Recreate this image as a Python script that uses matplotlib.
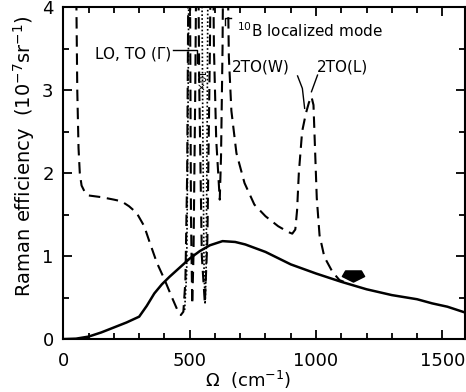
import numpy as np
import matplotlib
matplotlib.use('Agg')
import matplotlib.pyplot as plt
from matplotlib.path import Path

# solid curve
solid_x = [0, 50, 100, 150, 200, 250, 300, 330, 360, 390, 420, 460, 500, 540, 580, 630,
           680, 720, 800, 900, 1000, 1100, 1200, 1300, 1400, 1460, 1520, 1590]
solid_y = [0.0, 0.005, 0.03, 0.08, 0.14, 0.20, 0.27, 0.40, 0.55, 0.66, 0.75, 0.86, 0.97, 1.06, 1.13, 1.18,
           1.17, 1.14, 1.05, 0.90, 0.79, 0.69, 0.60, 0.53, 0.48, 0.43, 0.39, 0.32]

# dashed curve
dash_x = [40, 50, 55, 60, 65, 72, 85, 100, 150, 200, 230, 260, 290, 320, 340, 370, 400, 430, 450, 465,
          475, 483, 490, 495, 498, 501, 505, 510, 515, 522, 530, 538, 548, 560, 570, 580, 588,
          596, 605, 619, 624, 630, 636, 642, 648, 655, 665, 685, 717, 756, 800, 850, 890, 906, 918,
          925, 932, 945, 960, 972, 982, 990, 996, 1003, 1014, 1033, 1065, 1093, 1110]
dash_y = [6.0, 4.5, 3.0, 2.3, 2.0, 1.85, 1.77, 1.73, 1.71, 1.68, 1.66, 1.60, 1.52, 1.36, 1.18, 0.92, 0.72, 0.50, 0.36, 0.29,
          0.33, 0.7, 2.0, 4.5, 6.0, 4.5, 1.5, 0.42, 1.0, 3.0, 6.0, 3.0, 1.0, 0.43, 1.2, 3.5, 6.0,
          3.5, 2.4, 1.68, 2.2, 3.5, 6.0, 8.0, 5.0, 3.4, 2.75, 2.24, 1.88, 1.62, 1.48, 1.36, 1.29, 1.27, 1.32,
          1.55, 2.0, 2.5, 2.72, 2.85, 2.92, 2.82, 2.3, 1.7, 1.25, 0.99, 0.81, 0.71, 0.69]

# dotted curve (x10)
dot_x = [480, 488, 494, 500, 520, 545, 552, 557, 561, 565, 569, 575]
dot_y = [0.35, 0.8, 3.0, 6.0, 9.0, 6.0, 2.5, 0.8, 0.42, 0.8, 2.5, 6.0]

arrow_x, arrow_y = 1145, 0.76

fig = plt.figure(figsize=(4.66, 3.92), dpi=100)
ax = fig.add_axes([0.136, 0.135, 0.862, 0.847])

ax.plot(solid_x, solid_y, color='black', lw=1.8)
ax.plot(dash_x, dash_y, color='black', lw=1.5, dashes=(5.5, 3.2))
ax.plot(dot_x, dot_y, color='black', lw=1.2, dashes=(1, 1.3))

verts = [(-0.71, 0.5), (0.71, 0.5), (1, 0), (0, -0.5), (-1, 0), (-0.71, 0.5)]
arrow_marker = Path(verts, [Path.MOVETO] + [Path.LINETO] * 4 + [Path.CLOSEPOLY])
ax.plot([arrow_x], [arrow_y], marker=arrow_marker, ms=16, color='black', ls='none')

# labels and leaders
ax.text(428, 3.43, 'LO, TO (Γ)', fontsize=11, ha='right', va='center')
ax.plot([433, 528, 528], [3.48, 3.48, 3.33], color='black', lw=1.0)
ax.text(535, 3.10, '10×', fontsize=7.5, rotation=-90, ha='center', va='center')

ax.text(688, 3.64, r'$^{10}$B localized mode', fontsize=11, ha='left', va='baseline')
ax.plot([638, 638, 664], [3.78, 3.87, 3.87], color='black', lw=1.0)

ax.text(666, 3.22, '2TO(W)', fontsize=11, ha='left', va='baseline')
ax.text(1002, 3.22, '2TO(L)', fontsize=11, ha='left', va='baseline')
ax.plot([927, 946, 955], [3.17, 3.02, 2.78], color='black', lw=1.0)
ax.plot([1006, 982], [3.18, 2.98], color='black', lw=1.0)

ax.set_xlim(0, 1590)
ax.set_ylim(0, 4)
ax.set_xticks([0, 500, 1000, 1500])
ax.set_xticks(np.arange(0, 1600, 100), minor=True)
ax.set_yticks([0, 1, 2, 3, 4])
ax.set_yticks(np.arange(0, 4.01, 0.5), minor=True)
ax.tick_params(which='both', direction='in', top=True, right=True, width=1.3)
ax.tick_params(which='major', length=6.5, labelsize=13)
ax.tick_params(which='minor', length=4.3)
ax.tick_params(axis='y', pad=7)
ax.tick_params(axis='x', pad=9)
for s in ax.spines.values():
    s.set_linewidth(1.5)

ax.set_xlabel(r'Ω  (cm$^{-1}$)', fontsize=13)
ax.xaxis.set_label_coords(0.46, -0.09)
ax.set_ylabel(r'Raman efficiency  (10$^{-7}$sr$^{-1}$)', fontsize=14)
ax.yaxis.set_label_coords(-0.065, 0.55)

fig.savefig('out.png', dpi=100)
